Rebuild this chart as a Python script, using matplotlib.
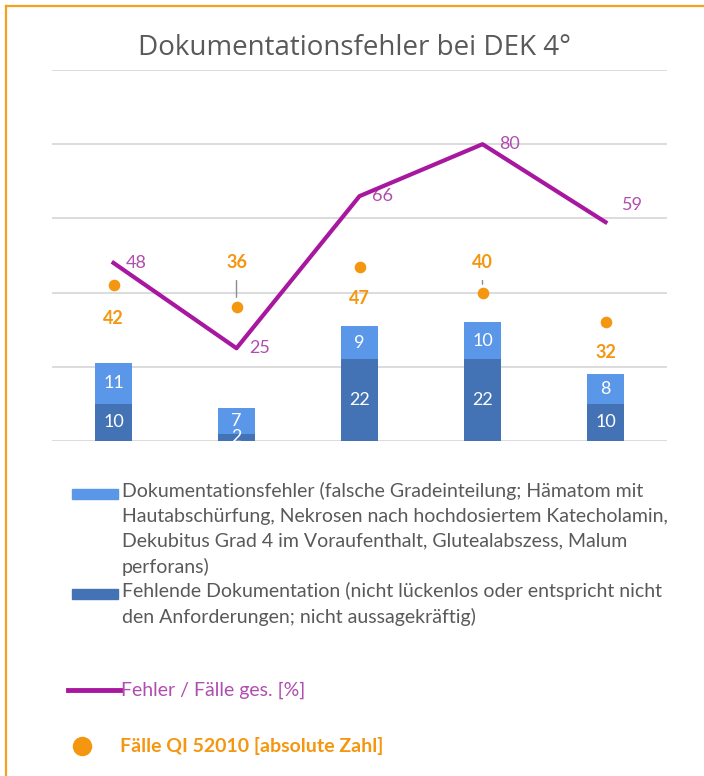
"""
Dokumentationsfehler bei DEK 4 - gestapelte Balken, Linie und Punkte.
"""

import matplotlib
matplotlib.use('Agg')
import matplotlib.pyplot as plt
from matplotlib.patches import Rectangle
from matplotlib.lines import Line2D
import numpy as np

# Daten
kategorien = ['A', 'B', 'C', 'D', 'E']
fehlende_doku = [10, 2, 22, 22, 10]
doku_fehler = [11, 7, 9, 10, 8]
fehler_prozent = [48, 25, 66, 80, 59]
faelle_qi = [42, 36, 47, 40, 32]

label_doku_fehler = ('Dokumentationsfehler (falsche Gradeinteilung; Hämatom mit\n'
                     'Hautabschürfung, Nekrosen nach hochdosiertem Katecholamin,\n'
                     'Dekubitus Grad 4 im Voraufenthalt, Glutealabszess, Malum\n'
                     'perforans)')
label_fehlende = ('Fehlende Dokumentation (nicht lückenlos oder entspricht nicht\n'
                  'den Anforderungen; nicht aussagekräftig)')
label_linie = 'Fehler / Fälle ges. [%]'
label_punkte = 'Fälle QI 52010 [absolute Zahl]'

HELL = '#5A97E8'
DUNKEL = '#4473B5'
MAGENTA = '#A8179F'
MAGENTA_TXT = '#B04DB0'
ORANGE = '#F4960F'
GRAU = '#595959'
FONT = ['Lato', 'DejaVu Sans']


def main():
    plt.rcParams['font.family'] = FONT
    fig = plt.figure(figsize=(7.04, 7.76), dpi=100)
    ax = fig.add_axes([52 / 704, 1 - 441 / 776, 615 / 704, 371 / 776])

    x = np.arange(len(kategorien))
    ax.bar(x, fehlende_doku, width=0.3, color=DUNKEL, zorder=2)
    ax.bar(x, doku_fehler, width=0.3, bottom=fehlende_doku, color=HELL, zorder=2)
    for i in x:
        ax.text(i, fehlende_doku[i] / 2, str(fehlende_doku[i]), color='white',
                ha='center', va='center', fontsize=13, zorder=3)
        ax.text(i, fehlende_doku[i] + doku_fehler[i] / 2, str(doku_fehler[i]),
                color='white', ha='center', va='center', fontsize=13, zorder=3)

    ax.plot(x, fehler_prozent, color=MAGENTA, lw=3, zorder=4)
    linie_off = [(9, 0), (9, 0), (9, 0), (12, 0), (12, 12)]
    for i in x:
        ax.annotate(str(fehler_prozent[i]), (i, fehler_prozent[i]),
                    xytext=linie_off[i], textcoords='offset points',
                    ha='left', va='center', color=MAGENTA_TXT, fontsize=13)

    ax.scatter(x, faelle_qi, s=70, color=ORANGE, zorder=5, linewidths=0)
    punkt_off = [-24, 32, -23, 22, -22]
    for i in x:
        ax.annotate(str(faelle_qi[i]), (i, faelle_qi[i]),
                    xytext=(0, punkt_off[i]), textcoords='offset points',
                    ha='center', va='center', color=ORANGE, fontsize=13,
                    fontweight='bold')
    # Führungslinien
    ax.annotate('', (1, faelle_qi[1] + 2), xytext=(1, faelle_qi[1] + 8),
                arrowprops=dict(arrowstyle='-', color='#8C8C8C', lw=1))
    ax.annotate('', (3, faelle_qi[3] + 1.5), xytext=(3, faelle_qi[3] + 4),
                arrowprops=dict(arrowstyle='-', color='#8C8C8C', lw=1))

    ax.set_xlim(-0.5, 4.5)
    ax.set_ylim(0, 100)
    ax.set_yticks(np.arange(0, 101, 20))
    ax.grid(axis='y', color='#D9D9D9', lw=1.3, zorder=0)
    ax.set_xticks([])
    ax.tick_params(left=False, labelleft=False)
    for s in ax.spines.values():
        s.set_visible(False)

    fig.text(354 / 704, 1 - 48 / 776, 'Dokumentationsfehler bei DEK 4°',
             ha='center', va='center', fontsize=20, color=GRAU,
             family=['Open Sans', 'DejaVu Sans'])

    # Legende
    def fy(y):
        return 1 - y / 776

    fig.patches.append(Rectangle((72 / 704, fy(499)), 46 / 704, 10 / 776,
                                 color=HELL, transform=fig.transFigure))
    fig.patches.append(Rectangle((72 / 704, fy(599)), 46 / 704, 10 / 776,
                                 color=DUNKEL, transform=fig.transFigure))
    fig.text(122 / 704, fy(482), label_doku_fehler, ha='left', va='top',
             fontsize=14, color=GRAU, linespacing=1.55)
    fig.text(122 / 704, fy(582), label_fehlende, ha='left', va='top',
             fontsize=14, color=GRAU, linespacing=1.55)
    fig.lines.append(Line2D([68 / 704, 120 / 704], [fy(690), fy(690)],
                            color=MAGENTA, lw=3.5, transform=fig.transFigure))
    fig.text(121 / 704, fy(690), label_linie, ha='left', va='center',
             fontsize=14, color=MAGENTA_TXT)
    fig.lines.append(Line2D([82 / 704], [fy(746)], marker='o', ms=14,
                            color=ORANGE, mew=0, transform=fig.transFigure))
    fig.text(120 / 704, fy(746), label_punkte, ha='left', va='center',
             fontsize=14, color=ORANGE, fontweight='bold')

    # Rahmen
    fig.lines.append(Line2D([6 / 704, 6 / 704], [0, fy(6)], color='#F7A11A',
                            lw=1.6, transform=fig.transFigure))
    fig.lines.append(Line2D([6 / 704, 1], [fy(6), fy(6)], color='#F7A11A',
                            lw=1.6, transform=fig.transFigure))

    fig.savefig('out.png', dpi=100)


if __name__ == '__main__':
    main()
